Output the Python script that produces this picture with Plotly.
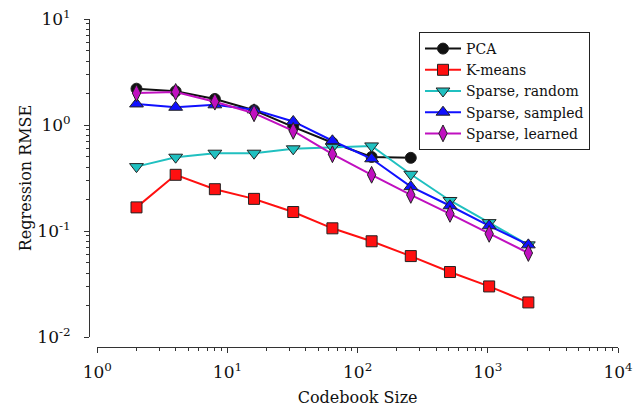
import plotly.graph_objects as go

codebook = [2, 4, 8, 16, 32, 64, 128, 256, 512, 1024, 2048]
pca = [2.2, 2.08, 1.76, 1.38, 0.96, 0.68, 0.50, 0.49]
kmeans = [0.167, 0.339, 0.248, 0.201, 0.151, 0.106, 0.080, 0.058, 0.041, 0.030, 0.0212]
sp_random = [0.405, 0.497, 0.542, 0.542, 0.596, 0.618, 0.635, 0.343, 0.194, 0.120, 0.074]
sp_sampled = [1.58, 1.47, 1.55, 1.39, 1.08, 0.71, 0.48, 0.262, 0.173, 0.112, 0.074]
sp_learned = [2.0, 2.05, 1.66, 1.29, 0.88, 0.53, 0.339, 0.219, 0.145, 0.094, 0.062]

names = ["PCA", "K-means", "Sparse, random", "Sparse, sampled", "Sparse, learned"]
series = [pca, kmeans, sp_random, sp_sampled, sp_learned]
colors = ["#111111", "#ff1010", "#20c0c0", "#1010ff", "#c010c0"]
symbols = ["circle", "square", "triangle-down", "triangle-up", "diamond-tall"]
sizes = [11, 11, 12, 12, 12]

x_major = [1, 10, 100, 1000, 10000]
x_major_text = ["10<sup>0</sup>", "10<sup>1</sup>", "10<sup>2</sup>", "10<sup>3</sup>", "10<sup>4</sup>"]
y_major = [0.01, 0.1, 1, 10]
y_major_text = ["10<sup>-2</sup>", "10<sup>-1</sup>", "10<sup>0</sup>", "10<sup>1</sup>"]

x_minor = [m * d for d in [1, 10, 100, 1000] for m in range(2, 10)]
y_minor = [m * d for d in [0.01, 0.1, 1] for m in range(2, 10)]

FONT = "DejaVu Serif"

fig = go.Figure()
for name, vals, c, s, sz in zip(names, series, colors, symbols, sizes):
    fig.add_trace(go.Scatter(
        x=codebook[:len(vals)], y=vals, name=name, mode="lines+markers",
        line=dict(color=c, width=2),
        marker=dict(symbol=s, size=sz, color=c, line=dict(color="#222222", width=1)),
    ))

L, R, T, B = 89, 21, 19, 60
W, H = 639, 407
pw = W - L - R
ph = H - T - B
xdom0 = (97.3 - L) / pw
ydom0 = (347.3 - 337.3) / ph

fig.update_layout(
    width=W, height=H,
    margin=dict(l=L, r=R, t=T, b=B, autoexpand=False),
    plot_bgcolor="white", paper_bgcolor="white",
    font=dict(family=FONT, size=14, color="#222222"),
    showlegend=True,
    legend=dict(
        x=(419 - L) / pw, y=(347 - 32) / ph, xanchor="left", yanchor="top",
        bordercolor="#222222", borderwidth=1, bgcolor="white",
        font=dict(family=FONT, size=14, color="#111111"),
        itemwidth=36, tracegroupgap=0,
    ),
    xaxis=dict(
        type="log", range=[0, 4], domain=[xdom0, 1],
        anchor="free", position=0, automargin=False,
        showline=True, linecolor="#333333", linewidth=1,
        showgrid=False, zeroline=False,
        ticks="outside", ticklen=5, tickcolor="#333333",
        tickmode="array", tickvals=x_major, ticktext=x_major_text,
        tickfont=dict(family=FONT, size=17, color="#111111"),
        ticklabelstandoff=5,
        minor=dict(ticks="outside", ticklen=3, tickcolor="#333333",
                   tickmode="array", tickvals=x_minor, showgrid=False),
        title=dict(text="Codebook Size", font=dict(family=FONT, size=16, color="#111111"), standoff=10),
    ),
    yaxis=dict(
        type="log", range=[-2, 1], domain=[ydom0, 1],
        anchor="free", position=0, automargin=False,
        showline=True, linecolor="#333333", linewidth=1,
        showgrid=False, zeroline=False,
        ticks="outside", ticklen=5, tickcolor="#333333",
        tickmode="array", tickvals=y_major, ticktext=y_major_text,
        tickfont=dict(family=FONT, size=17, color="#111111"),
        ticklabelstandoff=10,
        minor=dict(ticks="outside", ticklen=3, tickcolor="#333333",
                   tickmode="array", tickvals=y_minor, showgrid=False),
        title=dict(text="Regression RMSE", font=dict(family=FONT, size=16, color="#111111"), standoff=0),
    ),
)

fig.write_html("out.html")
